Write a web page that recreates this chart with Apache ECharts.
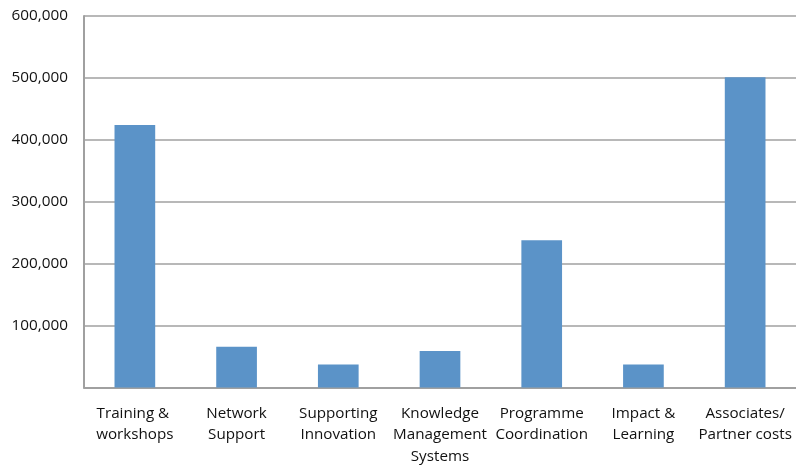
<!DOCTYPE html>
<html><head><meta charset="utf-8">
<script src="https://cdn.jsdelivr.net/npm/echarts@6/dist/echarts.min.js"></script>
<style>html,body{margin:0;padding:0;background:#fff}#c{width:796px;height:467px}</style>
</head><body><div id="c"></div>
<script>
const categories = ["Training & \nworkshops", "Network\nSupport", "Supporting\nInnovation", "Knowledge\nManagement\nSystems", "Programme\nCoordination", "Impact &\nLearning", "Associates/\nPartner costs"];
const values = [424000, 66000, 37000, 59000, 238000, 37000, 501000];
const yTicks = [0, 100000, 200000, 300000, 400000, 500000, 600000];

const chart = echarts.init(document.getElementById('c'));
chart.setOption({
  animation: false,
  grid: {left: 84, right: 0, top: 16, bottom: 78.5, containLabel: false},
  xAxis: {
    type: 'category', data: categories,
    axisLine: {lineStyle: {color: '#a0a0a0', width: 2}},
    axisTick: {show: false},
    axisLabel: {color: '#111', fontFamily: 'Open Sans', fontSize: 15.2, lineHeight: 21.5, margin: 15, interval: 0}
  },
  yAxis: {
    type: 'value', min: yTicks[0], max: yTicks[yTicks.length - 1], interval: 100000,
    axisLine: {show: true, lineStyle: {color: '#a0a0a0', width: 2}},
    axisTick: {show: false},
    splitLine: {lineStyle: {color: '#a0a0a0', width: 1.5}},
    axisLabel: {
      color: '#111', fontFamily: 'Open Sans', fontSize: 15.3, margin: 16,
      formatter: v => v === 0 ? '' : v.toLocaleString('en-US')
    }
  },
  series: [{
    type: 'bar', data: values, barWidth: '40%',
    itemStyle: {color: '#5b93c8'}
  }]
});
</script></body></html>
